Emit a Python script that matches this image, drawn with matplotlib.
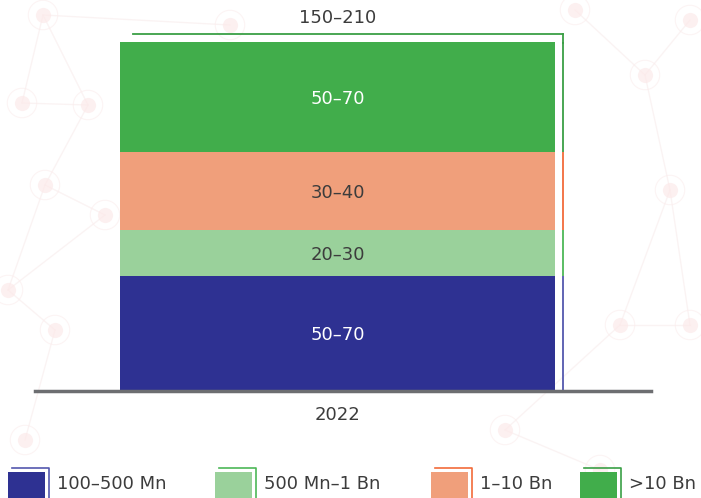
import matplotlib.pyplot as plt
from matplotlib.patches import Rectangle

# data
year = "2022"
total_label = "150–210"
segments = ["100–500 Mn", "500 Mn–1 Bn", "1–10 Bn", ">10 Bn"]
values = [59.5, 23.3, 40.3, 56.9]
labels = ["50–70", "20–30", "30–40", "50–70"]

colors = ["#2E3192", "#9AD19B", "#F09F7B", "#41AD4B"]
edges = ["#5458AE", "#4DB757", "#F26B3A", "#3A9F45"]
text_cols = ["white", "#3C3C3C", "#3C3C3C", "white"]

W, H = 701, 498
fig = plt.figure(figsize=(W / 100, H / 100), dpi=100)
fig.patch.set_facecolor("white")

# faint network background
bg = fig.add_axes([0, 0, 1, 1])
bg.set_xlim(0, W)
bg.set_ylim(H, 0)
bg.axis("off")
nodes = [(43, 15), (22, 103), (88, 105), (45, 185), (105, 215), (8, 290), (55, 330),
         (25, 440), (620, 325), (690, 325), (645, 75), (670, 190), (505, 430),
         (600, 470), (230, 25), (575, 10), (690, 20)]
links = [(0, 1), (0, 2), (1, 2), (2, 3), (3, 4), (4, 5), (5, 6), (6, 7), (3, 5),
         (8, 9), (10, 11), (11, 8), (8, 12), (12, 13), (9, 11), (14, 0), (15, 10), (16, 10)]
for a, b in links:
    bg.plot([nodes[a][0], nodes[b][0]], [nodes[a][1], nodes[b][1]],
            color="#F8ECEC", lw=1.0, alpha=0.6, zorder=0)
for x, y in nodes:
    bg.scatter(x, y, s=120, color="#FCEAEA", alpha=0.7, zorder=0, lw=0)
    bg.scatter(x, y, s=450, facecolor="none", edgecolor="#FBEDED", alpha=0.6, lw=0.8, zorder=0)

# main axes: x 35..651 px, baseline at y=391 px
ax_left, ax_right, base = 35, 651, 391
px_per_val = 349 / 180
top_val = 200
ax = fig.add_axes([ax_left / W, (H - base) / H, (ax_right - ax_left) / W, top_val * px_per_val / H])
ax.patch.set_alpha(0)
bar_l, bar_r = 120, 555
bw = bar_r - bar_l
ax.set_xlim((ax_left - bar_l) / bw - 0.5, (ax_right - bar_l) / bw - 0.5)
ax.set_ylim(0, top_val)
ax.axis("off")

dx = 8 / bw
dy = 8 / px_per_val
bottom = 0
for v, c, e, lab, tc in zip(values, colors, edges, labels, text_cols):
    # offset edge on the right of each segment
    ax.plot([0.5 + dx, 0.5 + dx], [bottom, bottom + v], color=e, lw=1.3, zorder=1,
            solid_capstyle="butt")
    ax.bar(0, v, width=1, bottom=bottom, color=c, zorder=2)
    ax.text(0, bottom + v / 2 - 1, lab, ha="center", va="center", color=tc,
            fontsize=13, zorder=3)
    bottom += v
# top edge of the offset outline
ax.plot([-0.5 + 13 / bw, 0.5 + dx], [bottom + dy, bottom + dy], color=edges[-1], lw=1.3, zorder=1)
ax.plot([0.5 + dx, 0.5 + dx], [bottom - 0.5, bottom + dy], color=edges[-1], lw=1.3, zorder=1)

ax.axhline(0, color="#6D6E71", lw=2.5, zorder=4, clip_on=False)
ax.text(0, bottom + 12.5, total_label, ha="center", va="center", color="#3C3C3C", fontsize=13)
ax.text(0, -12.5, year, ha="center", va="center", color="#3C3C3C", fontsize=13)

# legend
leg_x = [8, 215, 431, 580]
for x0, c, e, name in zip(leg_x, colors, edges, segments):
    bg.plot([x0 + 4, x0 + 41, x0 + 41], [468, 468, 500], color=e, lw=1.2, zorder=1)
    bg.add_patch(Rectangle((x0, 472), 37, 40, facecolor=c, edgecolor="none", zorder=2))
    bg.text(x0 + 49, 484, name, ha="left", va="center", color="#3C3C3C", fontsize=13)

fig.savefig("out.png", dpi=100, facecolor="white")
